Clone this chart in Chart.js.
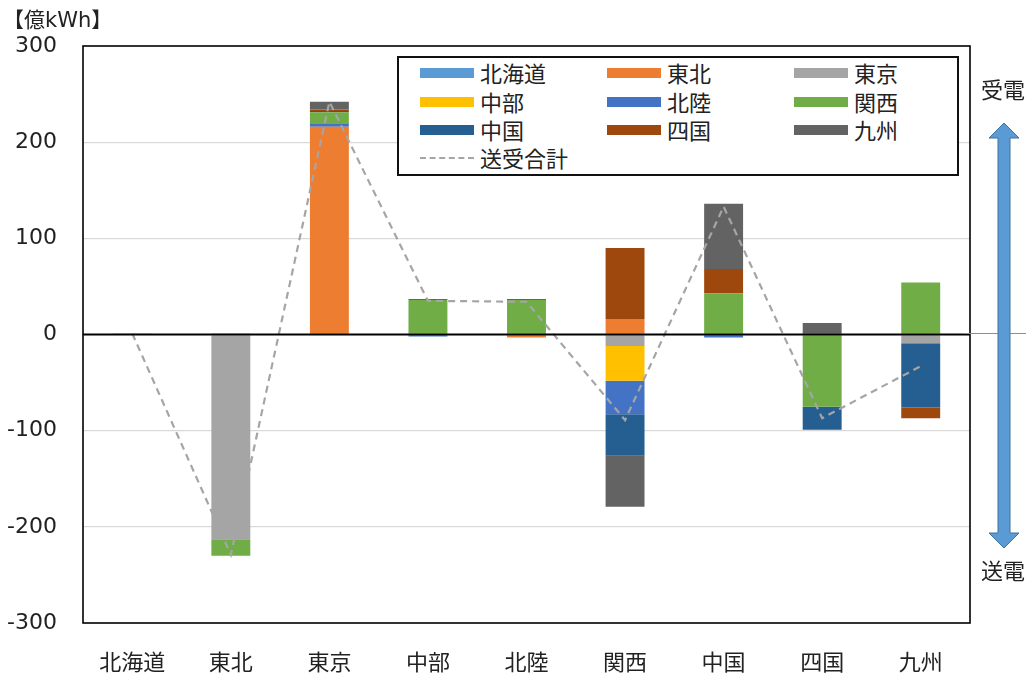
<!DOCTYPE html>
<html>
<head>
<meta charset="utf-8">
<script src="https://cdn.jsdelivr.net/npm/chart.js@4/dist/chart.umd.min.js"></script>
<style>
    body { margin: 0; background: #fff; }
    #wrap { position: relative; width: 1033px; height: 686px; font-family: "DejaVu Sans", "Noto Sans CJK JP", sans-serif; color: #222; }
    #unit { position: absolute; left: 3px; top: 3px; font-size: 21px; }
    #legend { position: absolute; left: 397px; top: 56px; width: 558px; height: 116px; border: 2px solid #111; background: #fff; }
    .item { position: absolute; font-size: 22px; line-height: 26px; font-family: "Noto Sans CJK JP", sans-serif; }
    .sw { position: absolute; width: 54px; height: 10px; }
    .side { position: absolute; left: 981px; font-size: 22px; font-family: "Noto Sans CJK JP", sans-serif; }
</style>
</head>
<body>
<div id="wrap">
    <canvas id="chart" width="1033" height="686"></canvas>
    <div id="unit">【億kWh】</div>
    <div id="legend"></div>
    <div class="side" style="top:72px;">受電</div>
    <div class="side" style="top:553px;">送電</div>
    <svg style="position:absolute;left:0;top:0;" width="1033" height="686">
        <line x1="963" y1="333.5" x2="1026" y2="333.5" stroke="#5B9BD5" stroke-width="1" />
        <polygon points="1004,123 1019,138 1010,138 1010,533 1019,533 1004,548 989,533 998,533 998,138 989,138"
            fill="#5B9BD5" stroke="#41719C" stroke-width="1" />
    </svg>
</div>
<script>
//categories (receiving area)
var areas = ["北海道", "東北", "東京", "中部", "北陸", "関西", "中国", "四国", "九州"];

//flows from each area (億kWh), + = received, - = sent
var hokkaido = [0, 1, 0, 0, 0, 0, 0, 0, 0];
var tohoku = [1, 0, 216, 0, -3, 16, 0, 0, 0];
var tokyo = [0, -213, 0, 0, 0, -12, 0, 0, -9];
var chubu = [0, 0, 0, 0, 0, -36, 0, 0, 0];
var hokuriku = [0, 0, 3, -2, 0, -35, -3, 0, 0];
var kansai = [0, -17, 12, 36, 36, 0, 43, -75, 54];
var chugoku = [0, 0, 1.5, 0, 0, -43, 0, -24, -67];
var shikoku = [0, 0, 1.5, 0, 0, 74, 25, 0, -11];
var kyushu = [0, 0, 8, 1, 1, -53, 68, 12, 0];
var total = [1, -229, 242, 35, 34, -89, 133, -87, -33];

var yTicks = [-300, -200, -100, 0, 100, 200, 300];

var seriesData = [hokkaido, tohoku, tokyo, chubu, hokuriku, kansai, chugoku, shikoku, kyushu];
var seriesColors = ["#5B9BD5", "#ED7D31", "#A5A5A5", "#FFC000", "#4472C4", "#70AD47", "#255E91", "#9E480E", "#636363"];
var totalLabel = "送受合計";

var datasets = [];
for (var i = 0; i < areas.length; i++) {
    datasets.push({
        type: 'bar',
        label: areas[i],
        data: seriesData[i],
        backgroundColor: seriesColors[i],
        borderWidth: 0,
        stack: 'flow',
        order: 1,
        barPercentage: 0.395,
        categoryPercentage: 1
    });
}
datasets.push({
    type: 'line',
    label: totalLabel,
    data: total,
    borderColor: "#A5A5A5",
    borderWidth: 2.2,
    borderDash: [7, 5],
    pointRadius: 0,
    fill: false,
    tension: 0,
    stack: 'total',
    order: 0
});

//frame + zero line over the bars
var framePlugin = {
    id: 'frame',
    afterDatasetsDraw: function(chart) {
        var ctx = chart.ctx;
        var a = chart.chartArea;
        var y0 = chart.scales.y.getPixelForValue(0);
        ctx.save();
        ctx.strokeStyle = "#000";
        ctx.lineWidth = 2;
        ctx.beginPath();
        ctx.moveTo(a.left, y0);
        ctx.lineTo(a.right, y0);
        ctx.stroke();
        ctx.lineWidth = 1.6;
        ctx.strokeRect(a.left, a.top, a.right - a.left, a.bottom - a.top);
        ctx.restore();
    }
};

var ctx = document.getElementById("chart").getContext('2d');
var chart = new Chart(ctx, {
    type: 'bar',
    data: {
        labels: areas,
        datasets: datasets
    },
    options: {
        responsive: false,
        animation: false,
        layout: { padding: { left: 0, top: 46, right: 63, bottom: 0 } },
        plugins: {
            legend: { display: false },
            tooltip: { enabled: false }
        },
        scales: {
            x: {
                stacked: true,
                grid: { display: false },
                border: { display: false },
                ticks: {
                    color: "#222",
                    padding: 17,
                    font: { family: "'Noto Sans CJK JP', sans-serif", size: 22 }
                },
                afterFit: function(s) { s.height = 63; }
            },
            y: {
                stacked: true,
                min: -300,
                max: 300,
                afterBuildTicks: function(s) {
                    s.ticks = yTicks.map(function(v) { return { value: v }; });
                },
                grid: {
                    color: function(c) {
                        if (c.tick.value == 0 || Math.abs(c.tick.value) == 300) return "rgba(0,0,0,0)";
                        return "#D9D9D9";
                    },
                    lineWidth: 1.3,
                    drawTicks: false
                },
                border: { display: false },
                ticks: {
                    color: "#222",
                    padding: 26,
                    font: { family: "'DejaVu Sans', sans-serif", size: 22 }
                },
                afterFit: function(s) { s.width = 83; }
            }
        }
    },
    plugins: [framePlugin]
});

//legend box (3 columns)
var legend = document.getElementById("legend");
var colX = [21, 208, 395];
var rowY = [15, 44, 72, 100];
for (var i = 0; i < areas.length; i++) {
    var col = i % 3, row = Math.floor(i / 3);
    var sw = document.createElement("div");
    sw.className = "sw";
    sw.style.left = colX[col] + "px";
    sw.style.top = (rowY[row] - 5) + "px";
    sw.style.background = seriesColors[i];
    legend.appendChild(sw);
    var t = document.createElement("div");
    t.className = "item";
    t.style.left = (colX[col] + 60) + "px";
    t.style.top = (rowY[row] - 14) + "px";
    t.textContent = areas[i];
    legend.appendChild(t);
}
var dash = document.createElement("div");
dash.style.cssText = "position:absolute;left:" + colX[0] + "px;top:" + (rowY[3] - 1) + "px;width:54px;height:0;border-top:2px dashed #A5A5A5;";
legend.appendChild(dash);
var tt = document.createElement("div");
tt.className = "item";
tt.style.left = (colX[0] + 60) + "px";
tt.style.top = (rowY[3] - 14) + "px";
tt.textContent = totalLabel;
legend.appendChild(tt);
</script>
</body>
</html>
